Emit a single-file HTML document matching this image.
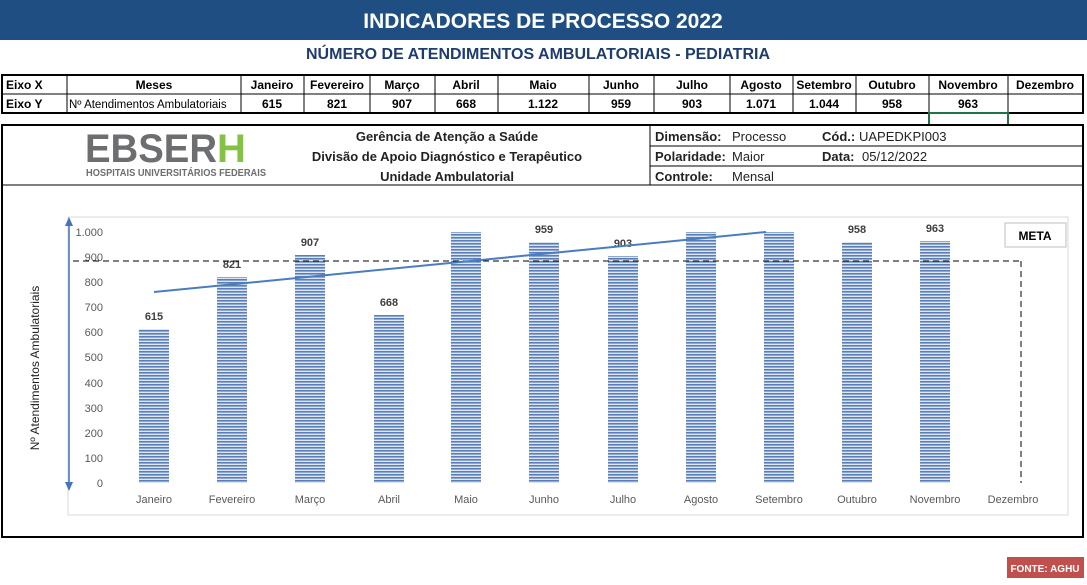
<!DOCTYPE html>
<html><head><meta charset="utf-8"><style>
body{margin:0;background:#fff;width:1087px;height:580px;overflow:hidden;font-family:"Liberation Sans",sans-serif}
</style></head><body>
<svg width="1087" height="580" xmlns="http://www.w3.org/2000/svg" font-family="Liberation Sans, sans-serif">
<defs>
<pattern id="hs" width="4" height="3" patternUnits="userSpaceOnUse">
<rect width="4" height="3" fill="#dde5f2"/><rect width="4" height="1.6" fill="#5a7fb8"/>
</pattern>
</defs>
<rect x="0" y="0" width="1087" height="40" fill="#1f4e83"/>
<text x="543" y="28" text-anchor="middle" fill="#fff" font-size="21" font-weight="bold">INDICADORES DE PROCESSO 2022</text>
<text x="538" y="59" text-anchor="middle" fill="#1f3c6e" font-size="16" font-weight="bold">NÚMERO DE ATENDIMENTOS AMBULATORIAIS -  PEDIATRIA</text>
<!-- table -->
<g stroke="#000" stroke-width="1" fill="none">
<rect x="2" y="75" width="1081" height="38" stroke-width="2"/>
<line x1="2" y1="94" x2="1083" y2="94"/>
<g id="cols"></g>
</g>
<g stroke="#000">
<line x1="67" y1="75" x2="67" y2="113"/><line x1="241" y1="75" x2="241" y2="113"/><line x1="304" y1="75" x2="304" y2="113"/><line x1="370" y1="75" x2="370" y2="113"/><line x1="435" y1="75" x2="435" y2="113"/><line x1="498" y1="75" x2="498" y2="113"/><line x1="589" y1="75" x2="589" y2="113"/><line x1="654" y1="75" x2="654" y2="113"/><line x1="730" y1="75" x2="730" y2="113"/><line x1="793" y1="75" x2="793" y2="113"/><line x1="856" y1="75" x2="856" y2="113"/><line x1="929" y1="75" x2="929" y2="113"/><line x1="1008" y1="75" x2="1008" y2="113"/>
</g>
<rect x="929" y="113" width="79" height="12" fill="none" stroke="#217346" stroke-width="2"/>
<g font-size="12" font-weight="bold" fill="#000" text-anchor="middle">
<text x="6" y="89" text-anchor="start">Eixo X</text><text x="6" y="108" text-anchor="start">Eixo Y</text>
<text x="154" y="89">Meses</text>
<text x="272" y="89">Janeiro</text><text x="337" y="89">Fevereiro</text><text x="402" y="89">Março</text><text x="466" y="89">Abril</text><text x="543" y="89">Maio</text><text x="621" y="89">Junho</text><text x="692" y="89">Julho</text><text x="761" y="89">Agosto</text><text x="824" y="89">Setembro</text><text x="892" y="89">Outubro</text><text x="968" y="89">Novembro</text><text x="1045" y="89">Dezembro</text>
<text x="272" y="108">615</text><text x="337" y="108">821</text><text x="402" y="108">907</text><text x="466" y="108">668</text><text x="543" y="108">1.122</text><text x="621" y="108">959</text><text x="692" y="108">903</text><text x="761" y="108">1.071</text><text x="824" y="108">1.044</text><text x="892" y="108">958</text><text x="968" y="108">963</text>
</g>
<text x="69" y="108" font-size="11.5">Nº Atendimentos Ambulatoriais</text>
<!-- header box -->
<rect x="2" y="125" width="1081" height="412" fill="none" stroke="#000" stroke-width="2"/>
<line x1="2" y1="185" x2="1083" y2="185" stroke="#000"/>
<line x1="650" y1="125" x2="650" y2="185" stroke="#000"/>
<line x1="650" y1="146" x2="1083" y2="146" stroke="#000"/>
<line x1="650" y1="166" x2="1083" y2="166" stroke="#000"/>
<text x="85" y="162" font-size="40" font-weight="bold" fill="#6d6e70" textLength="132" lengthAdjust="spacingAndGlyphs">EBSER</text>
<text x="217" y="162" font-size="40" font-weight="bold" fill="#84c341">H</text>
<text x="86" y="176" font-size="10.5" font-weight="bold" fill="#6d6e70" textLength="180" lengthAdjust="spacingAndGlyphs">HOSPITAIS UNIVERSITÁRIOS FEDERAIS</text>
<g font-size="13" font-weight="bold" text-anchor="middle" fill="#222">
<text x="447" y="141">Gerência de Atenção a Saúde</text>
<text x="447" y="161">Divisão de Apoio Diagnóstico e Terapêutico</text>
<text x="447" y="181">Unidade Ambulatorial</text>
</g>
<g font-size="13" fill="#222">
<text x="655" y="141" font-weight="bold">Dimensão:</text><text x="732" y="141">Processo</text>
<text x="822" y="141" font-weight="bold">Cód.:</text><text x="859" y="141">UAPEDKPI003</text>
<text x="655" y="161" font-weight="bold">Polaridade:</text><text x="732" y="161">Maior</text>
<text x="822" y="161" font-weight="bold">Data:</text><text x="862" y="161">05/12/2022</text>
<text x="655" y="181" font-weight="bold">Controle:</text><text x="732" y="181">Mensal</text>
</g>
<!-- chart -->
<rect x="68" y="217" width="1000" height="298" fill="none" stroke="#d9d9d9"/>
<line x1="69" y1="487" x2="69" y2="222" stroke="#4472c4" stroke-width="1.5"/>
<polygon points="69,217 65,226 73,226" fill="#4472c4"/>
<polygon points="69,491 65,482 73,482" fill="#4472c4"/>
<text transform="translate(39,368) rotate(-90)" font-size="12" text-anchor="middle" fill="#222">Nº Atendimentos Ambulatoriais</text>
<g font-size="11" fill="#595959" text-anchor="end">
<text x="103" y="236">1.000</text><text x="103" y="261">900</text><text x="103" y="286">800</text><text x="103" y="311">700</text><text x="103" y="336">600</text><text x="103" y="361">500</text><text x="103" y="387">400</text><text x="103" y="412">300</text><text x="103" y="437">200</text><text x="103" y="462">100</text><text x="103" y="487">0</text>
</g>
<g fill="url(#hs)">
<rect x="139" y="329" width="30" height="154"/>
<rect x="217" y="277" width="30" height="206"/>
<rect x="295" y="255" width="30" height="228"/>
<rect x="374" y="315" width="30" height="168"/>
<rect x="451" y="232" width="30" height="251"/>
<rect x="529" y="242" width="30" height="241"/>
<rect x="608" y="256" width="30" height="227"/>
<rect x="686" y="232" width="30" height="251"/>
<rect x="764" y="232" width="30" height="251"/>
<rect x="842" y="242" width="30" height="241"/>
<rect x="920" y="241" width="30" height="242"/>
</g>
<g font-size="11" font-weight="bold" fill="#404040" text-anchor="middle">
<text x="154" y="320">615</text><text x="232" y="268">821</text><text x="310" y="246">907</text><text x="389" y="306">668</text><text x="544" y="233">959</text><text x="623" y="247">903</text><text x="857" y="233">958</text><text x="935" y="232">963</text>
</g>
<line x1="73" y1="261" x2="1021" y2="261" stroke="#000" stroke-dasharray="6,4"/>
<line x1="1021" y1="261" x2="1021" y2="483" stroke="#000" stroke-dasharray="6,4"/>
<line x1="154" y1="292" x2="766" y2="232" stroke="#4a7cc0" stroke-width="2"/>
<rect x="1005" y="223" width="61" height="24" fill="#fff" stroke="#bfbfbf"/>
<text x="1035" y="240" font-size="12" font-weight="bold" text-anchor="middle">META</text>
<g font-size="11" fill="#595959" text-anchor="middle">
<text x="154" y="503">Janeiro</text><text x="232" y="503">Fevereiro</text><text x="310" y="503">Março</text><text x="389" y="503">Abril</text><text x="466" y="503">Maio</text><text x="544" y="503">Junho</text><text x="623" y="503">Julho</text><text x="701" y="503">Agosto</text><text x="779" y="503">Setembro</text><text x="857" y="503">Outubro</text><text x="935" y="503">Novembro</text><text x="1013" y="503">Dezembro</text>
</g>
<rect x="1007" y="557" width="77" height="21" fill="#c0504d"/>
<text x="1045" y="572" font-size="10" font-weight="bold" fill="#fff" text-anchor="middle">FONTE: AGHU</text>
</svg>
</body></html>
